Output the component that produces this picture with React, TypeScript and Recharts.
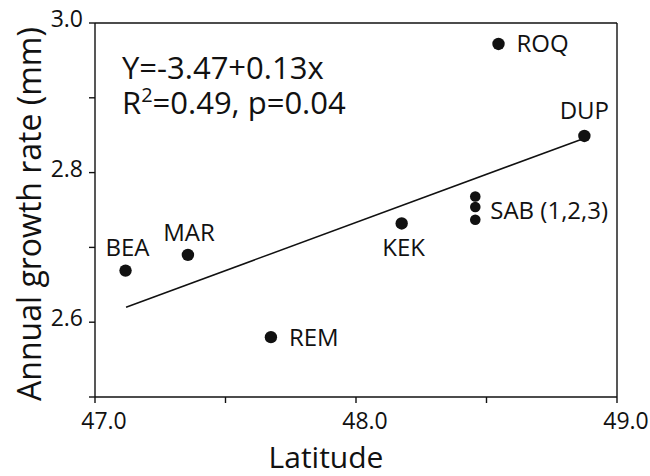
import React from 'react'
import { ScatterChart, Scatter, XAxis, YAxis, ReferenceLine, Label } from 'recharts'

// sites (SAB has three stacked samples)
const sites = ['BEA', 'MAR', 'REM', 'KEK', 'SAB1', 'SAB2', 'SAB3', 'ROQ', 'DUP']
const latitude = [47.117, 47.356, 47.674, 48.175, 48.457, 48.457, 48.457, 48.546, 48.875]
const growthRate = [2.669, 2.69, 2.58, 2.732, 2.768, 2.754, 2.737, 2.972, 2.849]
const siteLabels = ['BEA', 'MAR', 'REM', 'KEK', '', 'SAB (1,2,3)', '', 'ROQ', 'DUP']

// regression line end points
const fitLatitude = [47.119, 48.86]
const fitGrowth = [2.62, 2.844]

const xTicks = [47, 47.5, 48, 48.5, 49]
const xLabeled = [47, 48, 49]
const yTicks = [2.5, 2.6, 2.7, 2.8, 2.9, 3.0]
const yLabeled = [2.6, 2.8, 3.0]

const equation = 'Y=-3.47+0.13x'
const fitStats = ['R', '2', '=0.49, p=0.04']

const FONT = '"Open Sans", sans-serif'
const INK = '#111'

// where each site name sits relative to its dot
const labelPlacement: Record<string, { dx: number; dy: number; anchor: 'start' | 'middle' }> = {
  BEA: { dx: 2, dy: -15, anchor: 'middle' },
  MAR: { dx: 1, dy: -14, anchor: 'middle' },
  REM: { dx: 18, dy: 9, anchor: 'start' },
  KEK: { dx: 2, dy: 33, anchor: 'middle' },
  SAB2: { dx: 15, dy: 12, anchor: 'start' },
  ROQ: { dx: 18, dy: 8, anchor: 'start' },
  DUP: { dx: 0, dy: -17, anchor: 'middle' },
}

const points = sites.map((s, i) => ({
  site: s,
  label: siteLabels[i],
  lat: latitude[i],
  rate: growthRate[i],
}))

const fitLine = fitLatitude.map((x, i) => ({ lat: x, rate: fitGrowth[i] }))

const SiteDot = (props: any) => {
  const { cx, cy, payload } = props
  const small = payload.site.startsWith('SAB')
  const place = labelPlacement[payload.site]
  return (
    <g>
      <circle cx={cx} cy={cy} r={small ? 5.3 : 6.2} fill={INK} />
      {payload.label && place && (
        <text
          x={cx + place.dx}
          y={cy + place.dy}
          textAnchor={place.anchor}
          fontFamily={FONT}
          fontSize={24}
          fill={INK}
        >
          {payload.label}
        </text>
      )}
    </g>
  )
}

const XTick = (props: any) => {
  const { x, y, payload } = props
  if (!xLabeled.includes(payload.value)) return <g />
  return (
    <text x={x + 9} y={y + 26} textAnchor="middle" fontFamily={FONT} fontSize={23} fill={INK}>
      {payload.value.toFixed(1)}
    </text>
  )
}

const YTick = (props: any) => {
  const { x, y, payload } = props
  if (!yLabeled.some(v => Math.abs(v - payload.value) < 1e-9)) return <g />
  return (
    <text x={x} y={y + 4} textAnchor="end" fontFamily={FONT} fontSize={23} fill={INK}>
      {payload.value.toFixed(1)}
    </text>
  )
}

export default function App() {
  return (
    <div style={{ position: 'absolute', left: 0, top: 0, width: 650, height: 476, background: '#fff' }}>
      <ScatterChart width={650} height={476} margin={{ top: 23, right: 33, left: 0, bottom: 0 }}>
        <XAxis
          type="number"
          dataKey="lat"
          domain={[47, 49]}
          ticks={xTicks}
          tick={<XTick />}
          tickSize={6}
          tickMargin={0}
          height={79}
          stroke={INK}
          strokeWidth={1.4}
          allowDataOverflow
        >
          <Label
            content={() => (
              <text x={326} y={468} textAnchor="middle" fontFamily={FONT} fontSize={30} fill={INK}>
                Latitude
              </text>
            )}
          />
        </XAxis>
        <YAxis
          type="number"
          dataKey="rate"
          domain={[2.5, 3.0]}
          ticks={yTicks}
          tick={<YTick />}
          tickSize={6}
          tickMargin={6}
          width={95}
          stroke={INK}
          strokeWidth={1.4}
          allowDataOverflow
        >
          <Label
            content={() => (
              <text
                x={41}
                y={214}
                transform="rotate(-90 41 214)"
                textAnchor="middle"
                fontFamily={FONT}
                fontSize={32}
                fill={INK}
              >
                Annual growth rate (mm)
              </text>
            )}
          />
        </YAxis>
        <ReferenceLine y={3.0} stroke={INK} strokeWidth={1.4} />
        <ReferenceLine x={49} stroke={INK} strokeWidth={1.4} />
        <Scatter
          data={fitLine}
          line={{ stroke: INK, strokeWidth: 1.5 }}
          shape={() => <g />}
          isAnimationActive={false}
        />
        <Scatter data={points} shape={<SiteDot />} isAnimationActive={false} />
      </ScatterChart>
      <svg
        width={650}
        height={476}
        style={{ position: 'absolute', left: 0, top: 0, pointerEvents: 'none' }}
      >
        <text x={122} y={79} fontFamily={FONT} fontSize={31} fill={INK}>
          <tspan x={122}>{equation}</tspan>
          <tspan x={122} dy={35}>{fitStats[0]}</tspan>
          <tspan fontSize={20} dy={-12}>{fitStats[1]}</tspan>
          <tspan dy={12}>{fitStats[2]}</tspan>
        </text>
      </svg>
    </div>
  )
}
